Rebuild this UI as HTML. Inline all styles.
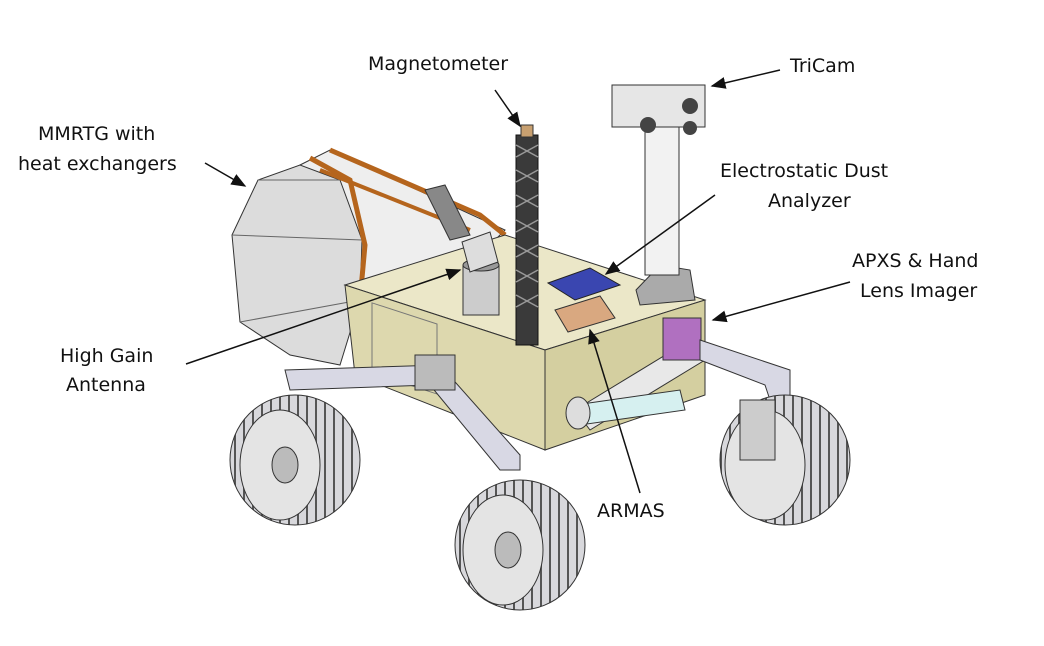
<!DOCTYPE html>
<html><head><meta charset="utf-8"><style>
html,body{margin:0;padding:0;background:#fff}
svg{display:block}
text{font-family:"DejaVu Sans","Liberation Sans",sans-serif;font-size:19px;fill:#111}
</style></head><body>
<svg width="1044" height="646" viewBox="0 0 1044 646" xmlns="http://www.w3.org/2000/svg">
<defs>
<marker id="ah" markerWidth="10" markerHeight="8" refX="9" refY="4" orient="auto"><path d="M0,0 L10,4 L0,8 z" fill="#111"/></marker>
<pattern id="tread" width="9" height="9" patternUnits="userSpaceOnUse"><rect width="9" height="9" fill="#d8d8dc"/><rect width="2" height="9" fill="#555"/></pattern>
</defs>

<!-- MMRTG -->
<polygon points="300,165 330,150 505,230 470,265 360,290 340,300" fill="#eee" stroke="#333"/>
<polygon points="232,235 258,180 300,165 340,180 362,240 360,300 340,365 290,355 240,322" fill="#dcdcdc" stroke="#333"/>
<line x1="258" y1="180" x2="340" y2="180" stroke="#666"/>
<line x1="232" y1="235" x2="362" y2="240" stroke="#666"/>
<line x1="240" y1="322" x2="360" y2="300" stroke="#666"/>
<polyline points="310,158 350,180 365,245 360,300" fill="none" stroke="#b5651d" stroke-width="5"/>
<polyline points="330,150 480,215 505,235" fill="none" stroke="#b5651d" stroke-width="5"/>
<polyline points="320,170 470,230" fill="none" stroke="#b5651d" stroke-width="4"/>
<polygon points="425,190 445,185 470,235 450,240" fill="#888" stroke="#333"/>

<!-- body -->
<polygon points="345,285 505,235 705,300 545,350" fill="#ebe7c8" stroke="#333"/>
<polygon points="345,285 545,350 545,450 355,375" fill="#ddd8ae" stroke="#333"/>
<polygon points="545,350 705,300 705,395 545,450" fill="#d4cfa0" stroke="#333"/>
<rect x="372" y="300" width="65" height="70" fill="none" stroke="#777" transform="skewY(18) translate(0,-118)"/>
<!-- top items -->
<rect x="463" y="265" width="36" height="50" fill="#ccc" stroke="#333"/>
<ellipse cx="481" cy="265" rx="18" ry="6" fill="#999" stroke="#333"/>
<polygon points="462,242 490,232 498,262 470,272" fill="#ddd" stroke="#333"/>
<polygon points="548,283 590,268 620,285 575,300" fill="#3a46b0" stroke="#222"/>
<polygon points="555,310 600,296 615,318 568,332" fill="#d9a880" stroke="#333"/>
<path d="M636,290 L660,265 L690,270 L695,300 L640,305 z" fill="#aaa" stroke="#333"/>

<!-- magnetometer -->
<rect x="516" y="135" width="22" height="210" fill="#3a3a3a" stroke="#111"/>
<path d="M516,145 l22,12 m-22,0 l22,-12 M516,170 l22,12 m-22,0 l22,-12 M516,195 l22,12 m-22,0 l22,-12 M516,220 l22,12 m-22,0 l22,-12 M516,245 l22,12 m-22,0 l22,-12 M516,270 l22,12 m-22,0 l22,-12 M516,295 l22,12 m-22,0 l22,-12" stroke="#999" stroke-width="1.5"/>
<rect x="521" y="125" width="12" height="12" fill="#c8a070" stroke="#333"/>

<!-- tricam mast -->
<rect x="645" y="125" width="34" height="150" fill="#f2f2f2" stroke="#333"/>
<rect x="612" y="85" width="93" height="42" fill="#e6e6e6" stroke="#333"/>
<circle cx="648" cy="125" r="8" fill="#444"/><circle cx="690" cy="106" r="8" fill="#444"/><circle cx="690" cy="128" r="7" fill="#444"/>

<!-- arm -->
<path d="M575,410 L690,340 L705,360 L590,430 z" fill="#e8e8e8" stroke="#333"/>
<path d="M575,405 L680,390 L685,410 L580,425 z" fill="#d6f0f0" stroke="#333"/>
<ellipse cx="578" cy="413" rx="12" ry="16" fill="#ddd" stroke="#333"/>
<rect x="663" y="318" width="38" height="42" fill="#b070c0" stroke="#333"/>

<!-- suspension -->
<path d="M285,370 L440,365 L520,455 L520,470 L500,470 L430,385 L290,390 z" fill="#d8d8e4" stroke="#333"/>
<path d="M700,340 L790,370 L790,400 L770,400 L765,385 L700,360 z" fill="#d8d8e4" stroke="#333"/>
<rect x="415" y="355" width="40" height="35" fill="#bbb" stroke="#333"/>

<!-- wheels -->
<circle cx="295" cy="460" r="65" fill="url(#tread)" stroke="#333"/>
<ellipse cx="280" cy="465" rx="40" ry="55" fill="#e4e4e4" stroke="#333"/>
<ellipse cx="285" cy="465" rx="13" ry="18" fill="#bbb" stroke="#333"/>
<circle cx="520" cy="545" r="65" fill="url(#tread)" stroke="#333"/>
<ellipse cx="503" cy="550" rx="40" ry="55" fill="#e4e4e4" stroke="#333"/>
<ellipse cx="508" cy="550" rx="13" ry="18" fill="#bbb" stroke="#333"/>
<circle cx="785" cy="460" r="65" fill="url(#tread)" stroke="#333"/>
<ellipse cx="765" cy="465" rx="40" ry="55" fill="#e4e4e4" stroke="#333"/>
<rect x="740" y="400" width="35" height="60" fill="#ccc" stroke="#333"/>

<!-- labels -->
<text x="368" y="70">Magnetometer</text>
<line x1="495" y1="90" x2="520" y2="126" stroke="#111" stroke-width="1.5" marker-end="url(#ah)"/>
<text x="790" y="72">TriCam</text>
<line x1="780" y1="70" x2="712" y2="86" stroke="#111" stroke-width="1.5" marker-end="url(#ah)"/>
<text x="38" y="140">MMRTG with</text>
<text x="18" y="170">heat exchangers</text>
<line x1="205" y1="163" x2="245" y2="186" stroke="#111" stroke-width="1.5" marker-end="url(#ah)"/>
<text x="720" y="177">Electrostatic Dust</text>
<text x="768" y="207">Analyzer</text>
<line x1="715" y1="195" x2="606" y2="274" stroke="#111" stroke-width="1.5" marker-end="url(#ah)"/>
<text x="852" y="267">APXS &amp; Hand</text>
<text x="860" y="297">Lens Imager</text>
<line x1="850" y1="282" x2="713" y2="320" stroke="#111" stroke-width="1.5" marker-end="url(#ah)"/>
<text x="60" y="362">High Gain</text>
<text x="66" y="391">Antenna</text>
<line x1="186" y1="364" x2="460" y2="270" stroke="#111" stroke-width="1.5" marker-end="url(#ah)"/>
<text x="597" y="517">ARMAS</text>
<line x1="640" y1="493" x2="590" y2="330" stroke="#111" stroke-width="1.5" marker-end="url(#ah)"/>
</svg>
</body></html>
